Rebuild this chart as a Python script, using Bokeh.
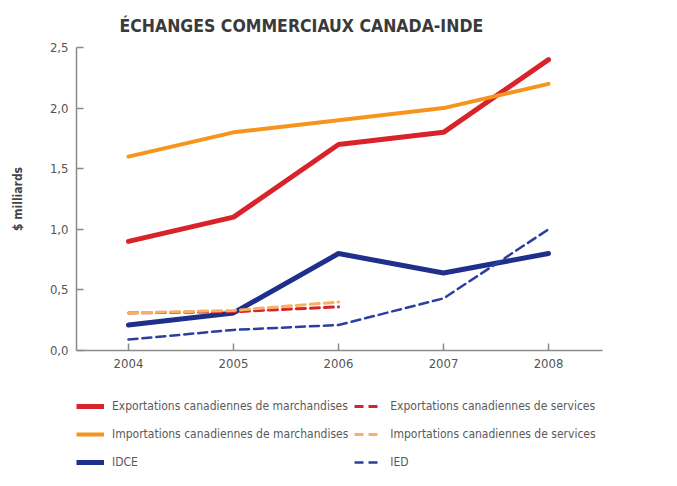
from bokeh.plotting import figure
from bokeh.layouts import column
from bokeh.models import Legend, LegendItem, FixedTicker, CustomJSTickFormatter, Title, Range1d
from bokeh.embed import file_html
from bokeh.resources import INLINE

years = [2004, 2005, 2006, 2007, 2008]
exp_march = [0.90, 1.10, 1.70, 1.80, 2.40]
imp_march = [1.60, 1.80, 1.90, 2.00, 2.20]
idce = [0.21, 0.31, 0.80, 0.64, 0.80]
ied = [0.09, 0.17, 0.21, 0.43, 1.00]
serv_years = [2004, 2005, 2006]
exp_serv = [0.31, 0.32, 0.36]
imp_serv = [0.31, 0.33, 0.40]
y_ticks = [0.0, 0.5, 1.0, 1.5, 2.0, 2.5]
labels = ["Exportations canadiennes de marchandises",
          "Importations canadiennes de marchandises",
          "IDCE",
          "Exportations canadiennes de services",
          "Importations canadiennes de services",
          "IED"]

FONT = "DejaVu Sans Condensed"
RED = "#d8232a"
ORANGE = "#f7941d"
ORANGE_L = "#f8b163"
BLUE = "#1e2f8c"
BLUE_D = "#2a3f9f"

styles = [
    dict(line_color=RED, line_width=5),
    dict(line_color=ORANGE, line_width=4),
    dict(line_color=BLUE, line_width=5),
    dict(line_color=RED, line_width=3, line_dash="9 5"),
    dict(line_color=ORANGE_L, line_width=3, line_dash="9 5"),
    dict(line_color=BLUE_D, line_width=2.5, line_dash="9 5"),
]
series = [(years, exp_march), (years, imp_march), (years, idce),
          (serv_years, exp_serv), (serv_years, imp_serv), (years, ied)]

p = figure(width=661, height=380, output_backend="svg", toolbar_location=None,
           x_range=Range1d(2003.505, 2008.514), y_range=Range1d(0, 2.5),
           min_border_left=76, min_border_right=59, min_border_top=47, min_border_bottom=30)
p.outline_line_color = None
p.grid.visible = False

for (xs, ys), st in zip(series, styles):
    p.line(xs, ys, line_cap="round", **st)

p.xaxis.ticker = FixedTicker(ticks=years)
p.yaxis.ticker = FixedTicker(ticks=y_ticks)
p.yaxis.formatter = CustomJSTickFormatter(code="return tick.toFixed(1).replace('.', ',');")
for ax in (p.xaxis[0], p.yaxis[0]):
    ax.axis_line_color = "#8a8a8a"
    ax.axis_line_width = 1.5
    ax.major_tick_line_color = "#8a8a8a"
    ax.major_tick_line_width = 1.5
    ax.major_tick_in = 7
    ax.major_tick_out = 0
    ax.minor_tick_line_color = None
    ax.major_label_text_font = FONT
    ax.major_label_text_font_size = "13px"
    ax.major_label_text_color = "#555555"
p.xaxis.major_label_standoff = 8
p.yaxis.major_label_standoff = 8
p.yaxis.axis_label = "$ milliards"
p.yaxis.axis_label_text_font = FONT
p.yaxis.axis_label_text_font_style = "bold"
p.yaxis.axis_label_text_font_size = "12px"
p.yaxis.axis_label_text_color = "#444444"
p.yaxis.axis_label_standoff = 22

t = Title(text="ÉCHANGES COMMERCIAUX CANADA-INDE", align="left", offset=43,
          text_font=FONT, text_font_style="bold", text_font_size="17.5px",
          text_color="#3a3a3a", standoff=24)
p.add_layout(t, "above")

# legend figure below the chart (its lines lie outside its view; only the legend shows)
p2 = figure(width=661, height=100, output_backend="svg", toolbar_location=None,
            x_axis_type=None, y_axis_type=None,
            x_range=Range1d(0, 1), y_range=Range1d(0, 1),
            min_border_left=0, min_border_right=0, min_border_top=0, min_border_bottom=0)
p2.outline_line_color = None
p2.grid.visible = False
items = []
for lab, (xs, ys), st in zip(labels, series, styles):
    rr = p2.line(xs, ys, **st)
    items.append(LegendItem(label=lab, renderers=[rr]))
legend = Legend(items=items, ncols=2, location=(0, 7), orientation="vertical",
                glyph_width=28, glyph_height=22, label_height=22, label_width=0,
                label_standoff=8, spacing=6, padding=0, margin=0,
                label_text_font=FONT, label_text_font_size="12px", label_text_color="#5a5a5a",
                border_line_color=None, background_fill_alpha=0)
p2.add_layout(legend, "center")

open("out.html", "w").write(file_html(column(p, p2), INLINE))
